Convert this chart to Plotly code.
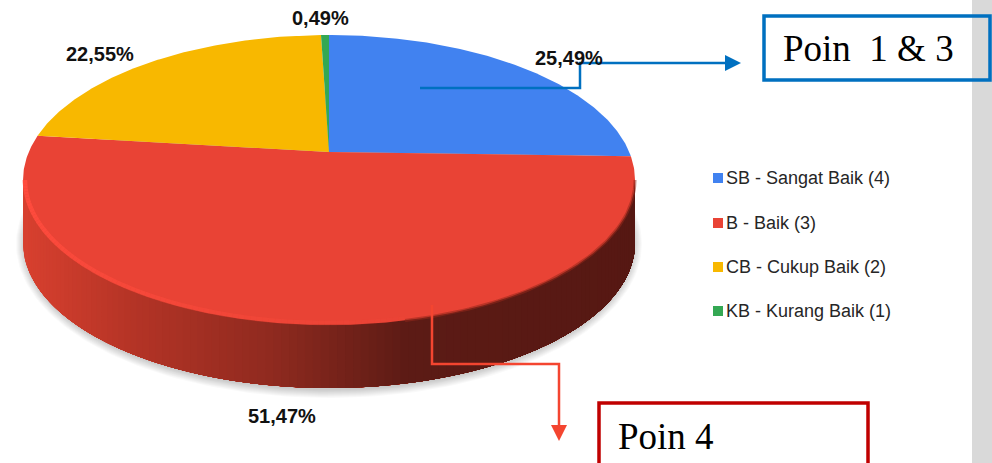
import numpy as np
import plotly.graph_objects as go

categories = ["SB - Sangat Baik (4)", "B - Baik (3)", "CB - Cukup Baik (2)", "KB - Kurang Baik (1)"]
values = [25.49, 51.47, 22.55, 0.49]
colors = ["#4182F0", "#E94335", "#F8B800", "#34A853"]
label_pos = [(569, 58), (282, 416), (100, 54), (320, 18)]
legend_y = [178, 223, 267, 311]

CX, CY, RX, RY = 329, 180, 306, 145
AX, AY = 329, 152
DEPTH = 63
SQUASH = 0.45


def rim(theta):
    dx, dy = np.sin(theta), -np.cos(theta) * SQUASH
    ox, oy = AX - CX, AY - CY
    A = (dx / RX) ** 2 + (dy / RY) ** 2
    B = 2 * (ox * dx / RX ** 2 + oy * dy / RY ** 2)
    C = (ox / RX) ** 2 + (oy / RY) ** 2 - 1
    t = (-B + np.sqrt(B * B - 4 * A * C)) / (2 * A)
    return AX + t * dx, AY + t * dy


def poly(x, y, color, lw=0):
    return go.Scatter(x=list(x), y=list(y), mode="lines", fill="toself", fillcolor=color,
                      line=dict(width=lw, color=color), hoverinfo="skip", showlegend=False)


def mix(t):
    stops = [(0, (216, 64, 47)), (.17, (181, 52, 38)), (.4, (143, 42, 31)), (.62, (92, 27, 21)), (1, (86, 24, 19))]
    for (a, ca), (b, cb) in zip(stops, stops[1:]):
        if t <= b:
            f = (t - a) / (b - a)
            c = [round(p + (q - p) * f) for p, q in zip(ca, cb)]
            return f"rgb({c[0]},{c[1]},{c[2]})"
    return "rgb(86,24,19)"


fig = go.Figure()

# soft shadow
phi = np.linspace(0, 2 * np.pi, 240)
for k in range(9, 0, -1):
    fig.add_trace(poly(CX + (RX + k - 2) * np.cos(phi), CY + DEPTH + 1 + (RY + k) * np.sin(phi), "rgba(0,0,0,0.022)"))

# side wall: each band runs on to the right end, the next band paints over it
edges = np.linspace(np.pi, 0, 121)
for p0 in edges[:-1]:
    ph = np.linspace(p0, 0, 30)
    xs = CX + RX * np.cos(ph)
    ys = CY + RY * np.sin(ph)
    x = np.r_[xs, xs[::-1]]
    y = np.r_[ys, ys[::-1] + DEPTH]
    fig.add_trace(poly(x, y, mix((xs[0] - (CX - RX)) / (2 * RX))))

# top face
total = sum(values)
start = 0.0
for v, c in zip(values, colors):
    th = np.linspace(start, start + v / total, max(6, int(v * 6))) * 2 * np.pi
    rx, ry = rim(th)
    fig.add_trace(poly(np.r_[AX, rx, AX], np.r_[AY, ry, AY], c))
    start += v / total

# highlighted rim along the front of the red slice
ph = np.linspace(np.pi, np.pi * 0.42, 90)
for i in range(len(ph) - 1):
    a = 1 - i / (len(ph) - 2)
    fig.add_trace(go.Scatter(
        x=CX + (RX - 2) * np.cos(ph[i:i + 2]), y=CY + (RY - 2) * np.sin(ph[i:i + 2]), mode="lines",
        line=dict(width=4.5, color=f"rgba(255,76,62,{a * 0.9 + 0.1:.2f})"),
        hoverinfo="skip", showlegend=False))
ph = np.linspace(np.pi * 0.42, 0, 60)
fig.add_trace(go.Scatter(x=CX + RX * np.cos(ph), y=CY + RY * np.sin(ph), mode="lines",
                         line=dict(width=3, color="rgba(150,40,28,0.55)"), hoverinfo="skip", showlegend=False))

# legend
fig.add_trace(go.Scatter(x=[718] * 4, y=legend_y, mode="markers",
                         marker=dict(symbol="square", size=10, color=colors, line=dict(width=0)),
                         hoverinfo="skip", showlegend=False))

ann = []
for v, (x, y) in zip(values, label_pos):
    ann.append(dict(x=x, y=y, text="<b>" + f"{v:.2f}%".replace(".", ",") + "</b>", showarrow=False,
                    xanchor="center", yanchor="middle",
                    font=dict(family="Liberation Sans", size=20, color="#111111")))
for name, y in zip(categories, legend_y):
    ann.append(dict(x=724, y=y, text=name, showarrow=False, xanchor="left", yanchor="middle",
                    font=dict(family="Liberation Sans", size=18, color="#262626")))
ann.append(dict(x=781, y=48, text="Poin&nbsp;&nbsp;1 &amp; 3", showarrow=False, xanchor="left", yanchor="middle",
                font=dict(family="Liberation Serif", size=37, color="#000000")))
ann.append(dict(x=616, y=436, text="Poin 4", showarrow=False, xanchor="left", yanchor="middle",
                font=dict(family="Liberation Serif", size=37, color="#000000")))
for a in ann:
    a.update(xref="x", yref="y")

BLUE, RED = "#0070C0", "#F44530"
shapes = [
    dict(type="rect", x0=972, x1=992, y0=0, y1=463, fillcolor="#D9D9D9", line_width=0, layer="below"),
    dict(type="rect", x0=764, x1=990, y0=16, y1=80, line=dict(color=BLUE, width=3.5)),
    dict(type="rect", x0=599, x1=868, y0=403, y1=480, line=dict(color="#C00000", width=3.5)),
    dict(type="path", path="M420,88 L580,88 L580,63 L730,63", line=dict(color=BLUE, width=2.5)),
    dict(type="path", path="M725,55 L741,63 L725,71 Z", fillcolor=BLUE, line_width=0),
    dict(type="path", path="M432,305 L432,364 L559,364 L559,430", line=dict(color=RED, width=2.5)),
    dict(type="path", path="M551,425 L567,425 L559,441 Z", fillcolor=RED, line_width=0),
]

fig.update_layout(
    width=992, height=463, margin=dict(l=0, r=0, t=0, b=0), showlegend=False,
    paper_bgcolor="white", plot_bgcolor="white", annotations=ann, shapes=shapes,
    xaxis=dict(range=[0, 992], visible=False, fixedrange=True),
    yaxis=dict(range=[463, 0], visible=False, fixedrange=True),
)
fig.write_html("out.html", config={"displayModeBar": False},
               post_script="document.body.style.margin='0';document.documentElement.style.overflow='hidden';")
